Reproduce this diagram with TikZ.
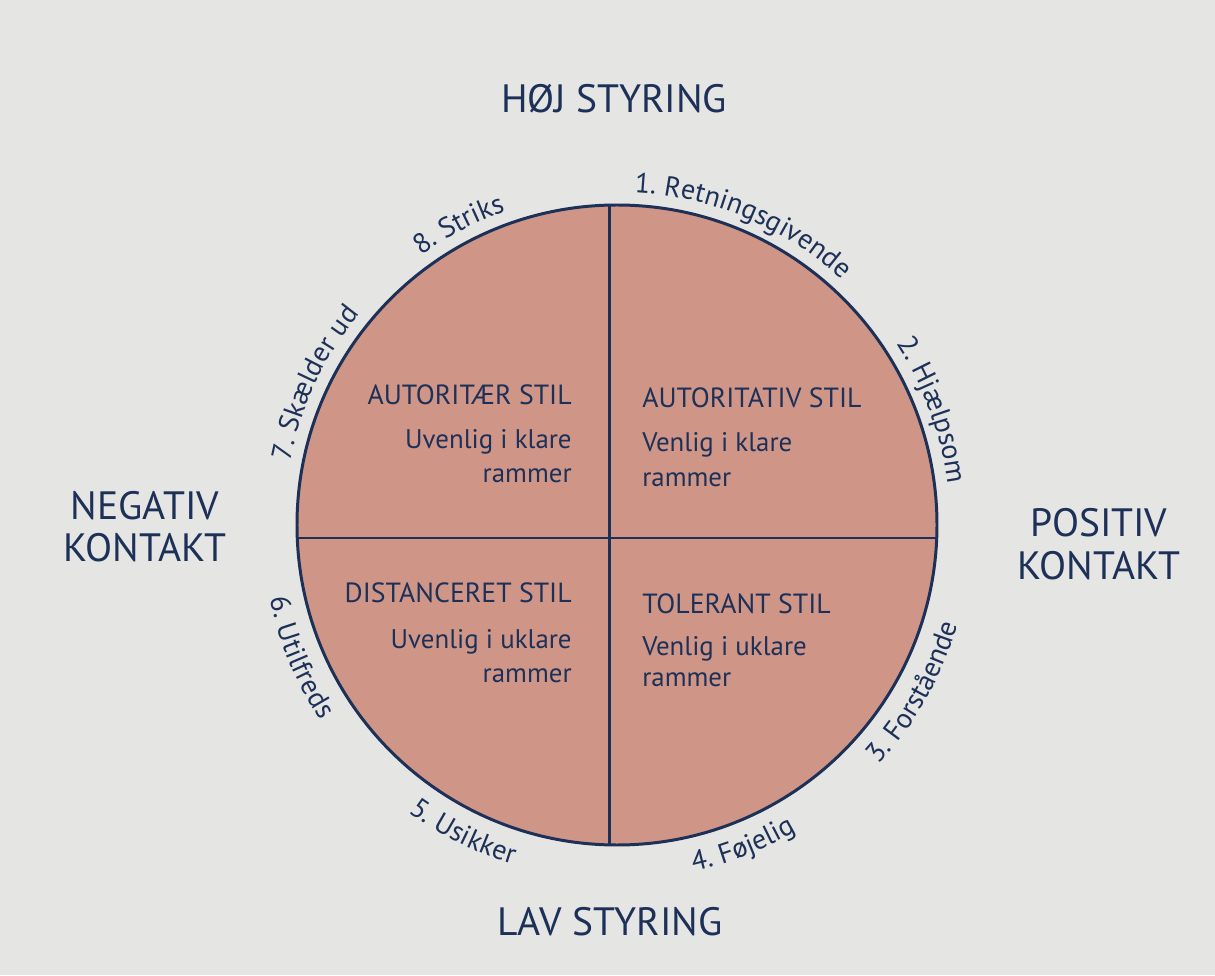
\documentclass[tikz,border=0pt]{standalone}
\usepackage{fontspec}
\setmainfont{PT Sans}
\usetikzlibrary{decorations.text,positioning}

\definecolor{navy}{RGB}{28,48,88}
\definecolor{salmon}{RGB}{207,150,136}
\definecolor{paper}{RGB}{229,229,227}

\newcommand{\arcfont}{\fontsize{16}{18}\selectfont}

\tikzset{
	bigtitle/.style={text=navy, font=\fontsize{22.5}{26}\selectfont, inner sep=0pt},
	quadtitle/.style={text=navy, font=\fontsize{15.8}{18}\selectfont, inner sep=0pt},
	quadbody/.style={text=navy, font=\fontsize{15.3}{18}\selectfont, inner sep=0pt},
	arclabel/.style={decorate, decoration={text along path, text color=navy, text={|\arcfont|#1}}},
}

\begin{document}
\begin{tikzpicture}[x=0.02cm,y=0.02cm]

	\fill [paper] (0,0) rectangle (1215,975);
	\useasboundingbox (0,0) rectangle (1215,975);

	\coordinate (c)	at (617,450);
	\coordinate (n)	at ([shift={(91.4:320)}]c);
	\coordinate (s)	at ([shift={(-91.4:320)}]c);
	\coordinate (w)	at ([shift={(182.3:320)}]c);
	\coordinate (e)	at ([shift={(-2.3:320)}]c);

	% circle and quadrants
	\draw [navy, line width=1.7pt, fill=salmon] (c) circle [radius=320];
	\draw [navy, line width=1.5pt] (w) -- (e) (n) -- (s);

	\node [bigtitle, anchor=base] at (614,862)	(hoj)		{HØJ STYRING};
	\node [bigtitle, anchor=base] at (610,40)	(lav)		{LAV STYRING};
	\node [bigtitle, anchor=base] at (145,455)	(neg_1)		{NEGATIV};
	\node [bigtitle, anchor=base] at (145,413)	(neg_2)		{KONTAKT};
	\node [bigtitle, anchor=base] at (1099,438)	(pos_1)		{POSITIV};
	\node [bigtitle, anchor=base] at (1099,395)	(pos_2)		{KONTAKT};

	\node [quadtitle, anchor=base east] at (572,570)	(aut_t)	{AUTORITÆR STIL};
	\node [quadbody, anchor=base east] at (572,526)		(aut_1)	{Uvenlig i klare};
	\node [quadbody, anchor=base east] at (572,492)		(aut_2)	{rammer};

	\node [quadtitle, anchor=base west] at (642,567)	(atv_t)	{AUTORITATIV STIL};
	\node [quadbody, anchor=base west] at (642,523)		(atv_1)	{Venlig i klare};
	\node [quadbody, anchor=base west] at (642,488)		(atv_2)	{rammer};

	\node [quadtitle, anchor=base east] at (572,372)	(dis_t)	{DISTANCERET STIL};
	\node [quadbody, anchor=base east] at (572,326)		(dis_1)	{Uvenlig i uklare};
	\node [quadbody, anchor=base east] at (572,293)		(dis_2)	{rammer};

	\node [quadtitle, anchor=base west] at (642,361)	(tol_t)	{TOLERANT STIL};
	\node [quadbody, anchor=base west] at (642,319)		(tol_1)	{Venlig i uklare};
	\node [quadbody, anchor=base west] at (642,288)		(tol_2)	{rammer};

	% labels round the circle
	\path [arclabel={1. Retningsgivende}]	([shift={(87:333)}]c)	arc [start angle=87, end angle=25, radius=333];
	\path [arclabel={2. Hjælpsom}]			([shift={(33:333)}]c)	arc [start angle=33, end angle=-15, radius=333];
	\path [arclabel={8. Striks}]			([shift={(126:333)}]c)	arc [start angle=126, end angle=92, radius=333];
	\path [arclabel={7. Skælder ud}]		([shift={(169:333)}]c)	arc [start angle=169, end angle=125, radius=333];
	\path [arclabel={6. Utilfreds}]			([shift={(-168:355)}]c)	arc [start angle=-168, end angle=-125, radius=355];
	\path [arclabel={5. Usikker}]			([shift={(-126:355)}]c)	arc [start angle=-126, end angle=-90, radius=355];
	\path [arclabel={4. Føjelig}]			([shift={(-77.5:355)}]c)	arc [start angle=-77.5, end angle=-40, radius=355];
	\path [arclabel={3. Forstående}]		([shift={(-42.5:355)}]c)	arc [start angle=-42.5, end angle=5, radius=355];

\end{tikzpicture}
\end{document}
